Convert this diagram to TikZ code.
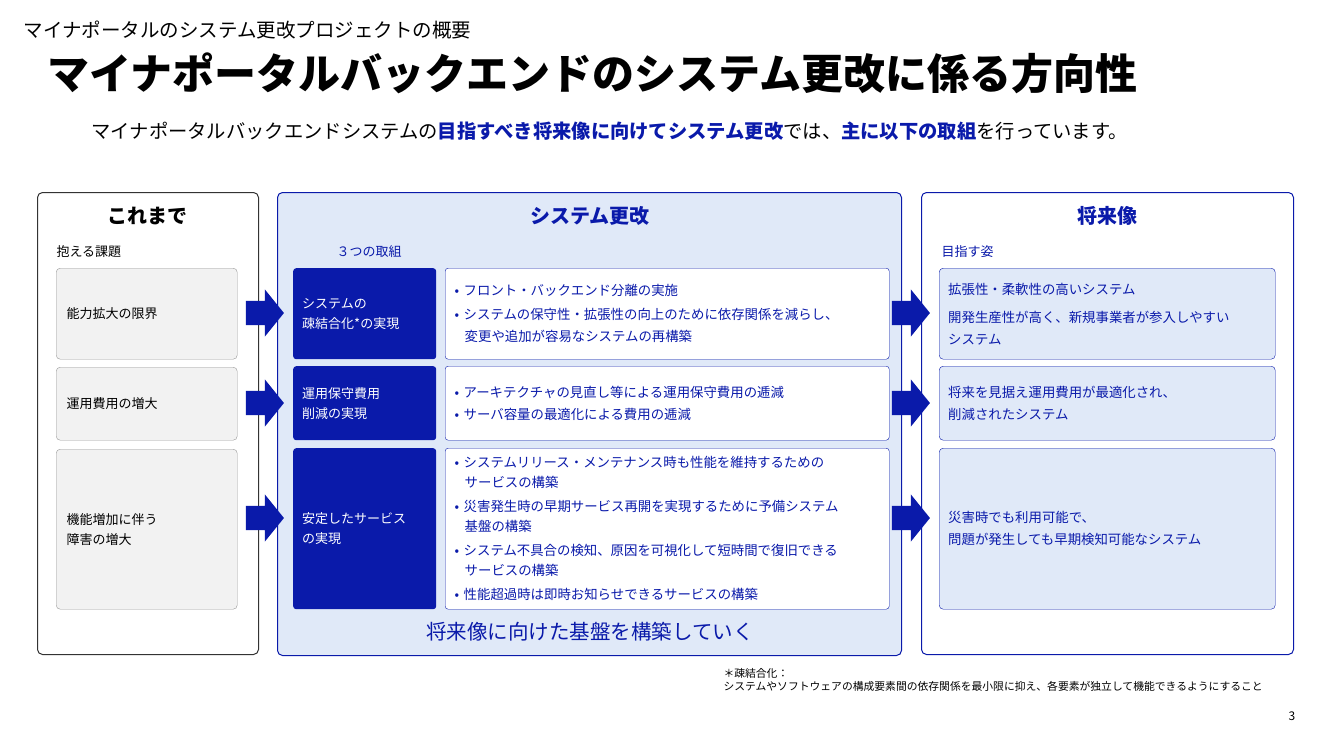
\documentclass[tikz,border=0pt]{standalone}
\usepackage{fontspec}
\setmainfont{Noto Sans CJK JP}
\usetikzlibrary{shapes.arrows,positioning}
\definecolor{navy}{HTML}{0A1AAA}
\definecolor{pale}{HTML}{E0E9F8}
\definecolor{grayfill}{HTML}{F2F2F2}
\newcommand\hl[1]{{\bfseries\color{navy}#1}}
\begin{document}
\begin{tikzpicture}[x=1pt,y=-1pt,
  panel/.style={draw,rounded corners=5pt,line width=1pt,anchor=north west,inner sep=0pt},
  issue/.style={draw=gray!80,fill=grayfill,rounded corners=4pt,anchor=north west,minimum width=181pt,
    text width=160pt,align=left,inner xsep=10pt,font=\fontsize{13}{20}\selectfont},
  task/.style={fill=navy,text=white,rounded corners=3pt,anchor=north west,minimum width=143pt,
    text width=125pt,align=left,inner xsep=9pt,font=\fontsize{13}{20}\selectfont},
  detail/.style={draw=navy,fill=white,rounded corners=3pt,anchor=north west,minimum width=444pt,
    text width=425pt,align=left,inner xsep=9pt,text=navy,font=\fontsize{13.4}{22}\selectfont},
  goal/.style={draw=navy,fill=pale,rounded corners=4pt,anchor=north west,minimum width=336pt,
    text width=318pt,align=left,inner xsep=9pt,text=navy,font=\fontsize{13.4}{22}\selectfont},
  push/.style={single arrow,fill=navy,minimum height=38pt,minimum width=47pt,
    single arrow head extend=11.5pt,inner sep=0pt,single arrow tip angle=102},
  head/.style={font=\fontsize{20}{24}\selectfont\bfseries},
  small/.style={font=\fontsize{13}{16}\selectfont,anchor=west}]
\useasboundingbox (0,0) rectangle (1334,750);
% titles
\node[anchor=west,font=\fontsize{19.5}{22}\selectfont] (sub) at (20,30) {マイナポータルのシステム更改プロジェクトの概要};
\node[anchor=west,font=\fontsize{42}{46}\selectfont\bfseries] (ttl) at (44,73) {マイナポータルバックエンドのシステム更改に係る方向性};
\node[anchor=west,font=\fontsize{19.3}{22}\selectfont] (lead) at (88,131)
  {マイナポータルバックエンドシステムの\hl{目指すべき将来像に向けてシステム更改}では、\hl{主に以下の取組}を行っています。};
% panels
\node[panel,draw=black!80,fill=white,minimum width=221pt,minimum height=462pt] (past) at (37,192) {};
\node[panel,draw=navy,fill=pale,minimum width=624pt,minimum height=463pt] (mid) at (277,192) {};
\node[panel,draw=navy,fill=white,minimum width=372pt,minimum height=462pt] (fut) at (921,192) {};
\node[head] (pastT) at (147,216) {これまで};
\node[head,text=navy] (midT) at (590,216) {システム更改};
\node[head,text=navy] (futT) at (1107,216) {将来像};
\node[small] (pastS) at (53,252) {抱える課題};
\node[small,text=navy] (midS) at (333,252) {３つの取組};
\node[small,text=navy] (futS) at (938,252) {目指す姿};
% rows
\node[issue,minimum height=91pt] (i1) at (56,268) {能力拡大の限界};
\node[issue,minimum height=73pt] (i2) at (56,367) {運用費用の増大};
\node[issue,minimum height=160pt] (i3) at (56,449) {機能増加に伴う\\障害の増大};
\node[task,minimum height=91pt] (t1) at (293,268) {システムの\\疎結合化*の実現};
\node[task,minimum height=74pt] (t2) at (293,366) {運用保守費用\\削減の実現};
\node[task,minimum height=161pt] (t3) at (293,448) {安定したサービス\\の実現};
\node[detail,minimum height=91pt] (d1) at (445,268)
  {• フロント・バックエンド分離の実施\\[2pt]• システムの保守性・拡張性の向上のために依存関係を減らし、\\\hspace*{10pt}変更や追加が容易なシステムの再構築};
\node[detail,minimum height=74pt] (d2) at (445,366)
  {• アーキテクチャの見直し等による運用保守費用の逓減\\• サーバ容量の最適化による費用の逓減};
\node[detail,minimum height=161pt,font=\fontsize{13.4}{20}\selectfont] (d3) at (445,448)
  {• システムリリース・メンテナンス時も性能を維持するための\\\hspace*{10pt}サービスの構築\\[4pt]• 災害発生時の早期サービス再開を実現するために予備システム\\\hspace*{10pt}基盤の構築\\[4pt]• システム不具合の検知、原因を可視化して短時間で復旧できる\\\hspace*{10pt}サービスの構築\\[4pt]• 性能超過時は即時お知らせできるサービスの構築};
\node[goal,minimum height=91pt] (g1) at (939,268)
  {拡張性・柔軟性の高いシステム\\[6pt]開発生産性が高く、新規事業者が参入しやすい\\システム};
\node[goal,minimum height=74pt] (g2) at (939,366) {将来を見据え運用費用が最適化され、\\削減されたシステム};
\node[goal,minimum height=161pt] (g3) at (939,448) {災害時でも利用可能で、\\問題が発生しても早期検知可能なシステム};
% arrows
\foreach \r/\yy in {1/313,2/403,3/518}{
  \node[push] (a\r) at (260,\yy) {\rule{0pt}{24pt}};
  \node[push] (b\r) at (906,\yy) {\rule{0pt}{24pt}};
}
\node[font=\fontsize{20.5}{24}\selectfont,text=navy] (base) at (590,632) {将来像に向けた基盤を構築していく};
% footnote
\node[anchor=north west,align=left,font=\fontsize{10.8}{13}\selectfont] (note) at (720,665)
  {＊疎結合化：\\システムやソフトウェアの構成要素間の依存関係を最小限に抑え、各要素が独立して機能できるようにすること};
\node[font=\fontsize{12}{14}\selectfont] (page) at (1292,716) {3};
\end{tikzpicture}
\end{document}
